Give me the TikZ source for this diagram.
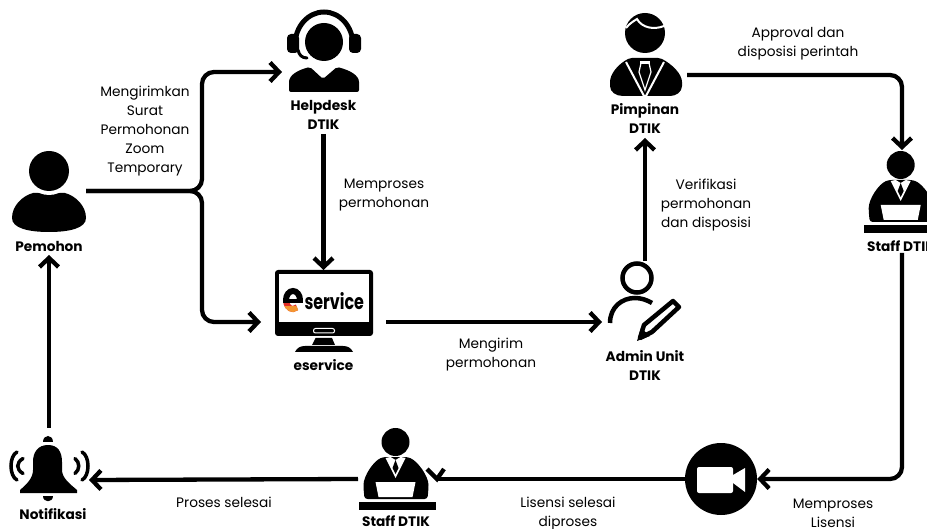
\documentclass[tikz,border=0pt]{standalone}
\usepackage{fontspec}
\setmainfont{Poppins}
\usetikzlibrary{arrows.meta}
\definecolor{eRed}{RGB}{226,46,38}
\definecolor{eOrange}{RGB}{244,150,48}
\tikzstyle{flow}=[
        line width=4.3pt,
        rounded corners=12pt,
        -{Straight Barb[length=9pt,width=19pt]}
]
\tikzstyle{plainflow}=[
        line width=4.3pt,
        rounded corners=12pt
]
\tikzstyle{iconbox}=[
        inner sep=0pt,
        outer sep=0pt
]
\tikzstyle{caption}=[
        font=\fontsize{13.7}{19}\selectfont,
        align=center,
        inner sep=0pt
]
\tikzstyle{role}=[
        font=\fontsize{13.7}{19}\selectfont\bfseries,
        align=center,
        inner sep=0pt
]
\newcommand{\staffdesk}[2]{
    \begin{scope}[shift={(#1,#2)}]
        \fill (0,0) circle (14);
        \fill[rounded corners=3pt] (-12,15) .. controls (-22,19) and (-32,34) .. (-32,46) -- (-31,57) -- (32,57) -- (33,46) .. controls (33,34) and (22,19) .. (12,15) -- cycle;
        \fill[white] (-10,16) -- (0,36) -- (10,16) -- (5,15) -- (0,18) -- (-5,15) -- cycle;
        \fill (0,18) -- (3,26) -- (0,32) -- (-3,26) -- cycle;
        \fill[white] (-20,40) -- (20,40) -- (17,55) -- (-17,55) -- cycle;
        \fill (-37,60) rectangle (40,68);
    \end{scope}
}
\begin{document}
\begin{tikzpicture}[x=1pt,y=-1pt]
                    \useasboundingbox (0,0) rectangle (927,529);

                    % icon boxes, the connectors end on their sides
                    \node[iconbox,minimum width=74pt,minimum height=128pt] (pemohon) at (49,191) {};
                    \node[iconbox,minimum width=83pt,minimum height=124pt] (helpdesk) at (323.5,72) {};
                    \node[iconbox,minimum width=125pt,minimum height=104pt] (eservice) at (323.5,322) {};
                    \node[iconbox,minimum width=86pt,minimum height=122pt] (admin) at (645,322) {};
                    \node[iconbox,minimum width=84pt,minimum height=126pt] (pimpinan) at (645,75) {};
                    \node[iconbox,minimum width=60pt,minimum height=103pt] (staffkanan) at (902,201.5) {};
                    \node[circle,fill=black,inner sep=0pt,minimum size=72pt] (kamera) at (721,479) {};
                    \node[iconbox,minimum width=79pt,minimum height=60pt] (staffbawah) at (397.5,479) {};
                    \node[iconbox,minimum width=80pt,minimum height=104pt] (notifikasi) at (49,480) {};
                    \coordinate (cabang) at (202,191);

                    % pemohon
                    \fill (12,218) .. controls (12,206) and (22,196) .. (33,193) -- (65,193) .. controls (76,196) and (86,206) .. (86,218) .. controls (86,228) and (70,232) .. (49,232) .. controls (28,232) and (12,228) .. (12,218) -- cycle;
                    \fill[white] (49,171) circle (24);
                    \fill (49,171) circle (20);
                    \node[role] (lblpemohon) at (49,246) {Pemohon};

                    % helpdesk
                    \fill (324,42) circle (19);
                    \draw[line width=5pt] (295,45) arc (180:360:29 and 33);
                    \fill[rounded corners=4pt] (287,34) rectangle (299,53);
                    \fill[rounded corners=4pt] (349,34) rectangle (361,53);
                    \draw[line width=3pt,line cap=round] (298,50) .. controls (299,55) and (302,58) .. (307,58);
                    \fill[rounded corners=2pt] (289,92) -- (289,84) .. controls (289,75) and (298,70) .. (310,67) -- (323,79) -- (337,67) .. controls (349,70) and (359,75) .. (359,84) -- (359,92) -- cycle;
                    \node[role] (lblhelpdesk) at (323.5,115) {Helpdesk\\DTIK};

                    % eservice
                    \fill[rounded corners=3pt] (275,270) rectangle (373,336);
                    \fill[white] (279,274) rectangle (369,322);
                    \draw[white,line width=1pt,rounded corners=2pt] (313.5,328.5) rectangle (334.5,333);
                    \fill (315.5,338) -- (332,338) -- (335,345) -- (312,345) -- cycle;
                    \fill (295,352) .. controls (297,348) and (300,346) .. (305,346) -- (343,346) .. controls (348,346) and (351,348) .. (353,352) -- cycle;
                    \draw[line width=6pt] (286,300) arc (180:360:7 and 9);
                    \draw[eRed,line width=6pt] (286,300) arc (180:55:7 and 9);
                    \begin{scope}
                        \clip (280,307) rectangle (306,314);
                        \draw[eOrange,line width=6pt] (286,300) arc (180:55:7 and 9);
                    \end{scope}
                    \fill (283,299) rectangle (303,303);
                    \node[iconbox,anchor=west] (logo) at (304.5,301.5) {\resizebox{59.5pt}{17pt}{\bfseries service}};
                    \node[role] (lbleservice) at (323.5,365) {eservice};

                    % admin
                    \draw[line width=4.5pt] (637,278) circle (14.5);
                    \draw[line width=4.5pt] (610,323) .. controls (610,307) and (622,298) .. (635,298) .. controls (641,298) and (647,300) .. (652,303);
                    \draw[line width=4.5pt,line join=round] (640,338) -- (644,325) -- (673,301) -- (679,307) -- (652,332) -- cycle;
                    \fill (637,341) -- (641,328) -- (650,336) -- cycle;
                    \node[role] (lbladmin) at (645,365.5) {Admin Unit\\DTIK};

                    % pimpinan
                    \fill (645,33) circle (20);
                    \draw[white,line width=2pt] (626,28) .. controls (630,23) and (634,21) .. (637,19) .. controls (642,28) and (654,30) .. (664,26);
                    \fill[rounded corners=2pt] (630,58) .. controls (618,64) and (610,74) .. (610,84) .. controls (610,92) and (616,96) .. (625,96) -- (668,96) .. controls (676,96) and (682,92) .. (682,84) .. controls (682,74) and (672,64) .. (660,58) -- cycle;
                    \draw[white,line width=2pt] (626,62) -- (644,96) -- (646,96) -- (664,62);
                    \draw[white,line width=1.2pt] (641,63) -- (639,72) -- (645,90) -- (651,72) -- (649,63) -- cycle;
                    \fill[white] (640,61) rectangle (650,64);
                    \node[role] (lblpimpinan) at (645,118.5) {Pimpinan\\DTIK};

                    % staff
                    \staffdesk{900.7}{165}
                    \staffdesk{395.5}{442}
                    \node[role] (lblstaffkanan) at (901,246) {Staff DTIK};
                    \node[role] (lblstaffbawah) at (396,521.5) {Staff DTIK};

                    % kamera
                    \fill[white,rounded corners=2pt] (697,467) rectangle (733,493);
                    \fill[white] (733,475) -- (745,468) -- (745,492) -- (733,483) -- cycle;

                    % notifikasi
                    \fill (43,442) .. controls (43,434) and (53,434) .. (53,442) -- cycle;
                    \fill (48,445) .. controls (38,445) and (33,452) .. (33,462) -- (33,470) .. controls (33,478) and (27,484) .. (20,490) -- (20,493) -- (77,493) -- (77,490) .. controls (70,484) and (62,478) .. (62,470) -- (62,462) .. controls (62,452) and (58,445) .. (48,445) -- cycle;
                    \fill (43,496) .. controls (43,503) and (53,503) .. (53,496) -- cycle;
                    \foreach \a/\b/\c in {17/9/14,23/16/7.5,82/90/14,75/80/7.5} {
                        \draw[line width=3.5pt,line cap=round] (\a,466-\c) .. controls (\b,466-\c+4) and (\b,466+\c-4) .. (\a,466+\c);
                    }
                    \node[role] (lblnotifikasi) at (53,514) {Notifikasi};

                    % connectors
                    \draw[flow] (pemohon.east) -- (cabang) -- (cabang |- helpdesk.west) -- (helpdesk.west);
                    \draw[flow] (pemohon.east) -- (cabang) -- (cabang |- eservice.west) -- (eservice.west);
                    \draw[flow] (helpdesk.south) -- (eservice.north);
                    \draw[flow] (eservice.east) -- (admin.west);
                    \draw[flow] (admin.north) -- (pimpinan.south);
                    \draw[flow] (pimpinan.east) -| (staffkanan.north);
                    \draw[flow] (staffkanan.south) |- (kamera.east);
                    \draw[plainflow] (kamera.west) -- (staffbawah.east);
                    \draw[plainflow,rounded corners=0pt,line join=miter] ([xshift=-10pt,yshift=10pt]staffbawah.east) -- (staffbawah.east) -- ([xshift=7pt,yshift=10pt]staffbawah.east);
                    \draw[flow] (staffbawah.west) -- (notifikasi.east);
                    \draw[flow] (notifikasi.north) -- (pemohon.south);

                    % captions
                    \node[caption] (mengirimkan) at (145,131.5) {Mengirimkan\\Surat\\Permohonan\\Zoom\\Temporary};
                    \node[caption] (memproses) at (384,195.5) {Memproses\\permohonan};
                    \node[caption] (mengirim) at (491,354.5) {Mengirim\\permohonan};
                    \node[caption] (verifikasi) at (706,205) {Verifikasi\\permohonan\\dan disposisi};
                    \node[caption] (approval) at (798,43.5) {Approval dan\\disposisi perintah};
                    \node[caption] (lisensi) at (833,513) {Memproses\\Lisensi};
                    \node[caption] (selesai) at (568,513.5) {Lisensi selesai\\diproses};
                    \node[caption] (proses) at (224,502) {Proses selesai};
\end{tikzpicture}
\end{document}
